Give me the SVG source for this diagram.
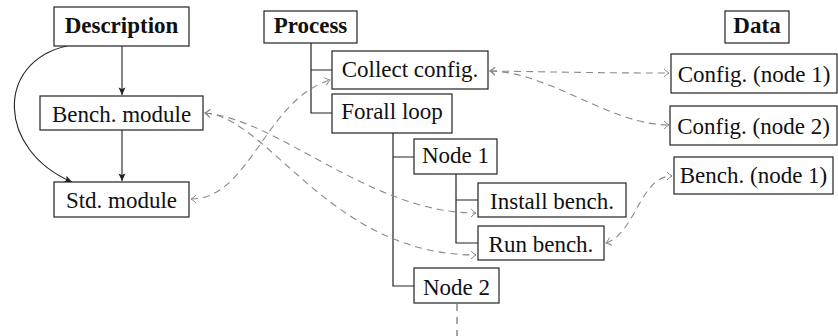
<svg xmlns="http://www.w3.org/2000/svg" width="838" height="336" viewBox="0 0 838 336">
<defs>
<style>
.box{fill:#fff;stroke:#222;stroke-width:1.2}
.t{font-family:"Liberation Serif","Times New Roman",serif;font-size:23px;fill:#111;text-anchor:middle}
.b{font-weight:bold}
.tree{fill:none;stroke:#222;stroke-width:1.2}
.arr{fill:none;stroke:#222;stroke-width:1.1;marker-end:url(#ah)}
.dash{fill:none;stroke:#8a8a8a;stroke-width:1.1;stroke-dasharray:7 5;marker-end:url(#gh);marker-start:url(#gh)}
.dnode{fill:none;stroke:#777;stroke-width:1.3;stroke-dasharray:7 6}
</style>
<marker id="ah" viewBox="-8 -4 9 8" refX="0" refY="0" markerWidth="9" markerHeight="8" markerUnits="userSpaceOnUse" orient="auto">
<path d="M-7.5,-3.5 L0,0 L-7.5,3.5 L-6,0 Z" fill="#222"/>
</marker>
<marker id="gh" viewBox="-7 -5 8 10" refX="0" refY="0" markerWidth="8" markerHeight="10" markerUnits="userSpaceOnUse" orient="auto-start-reverse">
<path d="M-5,-4 Q-2,-1 0,0 Q-2,1 -5,4" fill="none" stroke="#8a8a8a" stroke-width="1"/>
</marker>
</defs>

<g id="connectors">
<path class="tree" d="M311,43 V113 H332 M311,70 H332"/>
<path class="tree" d="M393,133 V286 H414 M393,157 H414"/>
<path class="tree" d="M456,174 V243 H478 M456,200 H478"/>
<path class="dnode" d="M457,304 V336"/>
<path class="arr" d="M122,46 V95"/>
<path class="arr" d="M122,130 V181"/>
<path class="arr" d="M67,46 C-5,62 -3,150 72,182"/>
<path class="dash" d="M490,71 C560,72 600,73 669,73"/>
<path class="dash" d="M490,71 C550,72 610,125 669,125"/>
<path class="dash" d="M191,199 C250,199 265,100 330,80"/>
<path class="dash" d="M205,113 C280,120 370,213 476,213"/>
<path class="dash" d="M205,113 C270,118 330,255 476,255"/>
<path class="dash" d="M606,243 C636,233 640,176 672,176"/>
</g>

<g id="description"><rect class="box" x="54" y="7" width="135" height="39"/><text class="t b" x="121.5" y="33">Description</text></g>
<g id="bench-module"><rect class="box" x="40" y="96" width="163" height="34"/><text class="t" x="121.5" y="122">Bench. module</text></g>
<g id="std-module"><rect class="box" x="54" y="182" width="135" height="35"/><text class="t" x="121.5" y="208">Std. module</text></g>

<g id="process"><rect class="box" x="264" y="11" width="93" height="32"/><text class="t b" x="310.5" y="33">Process</text></g>
<g id="collect-config"><rect class="box" x="332" y="51" width="156" height="38"/><text class="t" x="410" y="77">Collect config.</text></g>
<g id="forall-loop"><rect class="box" x="332" y="94" width="120" height="39"/><text class="t" x="392" y="119">Forall loop</text></g>
<g id="node1"><rect class="box" x="414" y="139" width="83" height="35"/><text class="t" x="455.5" y="163">Node 1</text></g>
<g id="install-bench"><rect class="box" x="478" y="183" width="148" height="34"/><text class="t" x="552" y="209">Install bench.</text></g>
<g id="run-bench"><rect class="box" x="478" y="226" width="126" height="34"/><text class="t" x="541" y="252">Run bench.</text></g>
<g id="node2"><rect class="box" x="414" y="268" width="85" height="35"/><text class="t" x="456.5" y="295">Node 2</text></g>

<g id="data"><rect class="box" x="725" y="11" width="64" height="32"/><text class="t b" x="757" y="33">Data</text></g>
<g id="config-node1"><rect class="box" x="671" y="54" width="166" height="39"/><text class="t" x="754" y="82">Config. (node 1)</text></g>
<g id="config-node2"><rect class="box" x="670" y="106" width="167" height="39"/><text class="t" x="753.5" y="134">Config. (node 2)</text></g>
<g id="bench-node1"><rect class="box" x="674" y="157" width="159" height="37"/><text class="t" x="753.5" y="183">Bench. (node 1)</text></g>
</svg>
